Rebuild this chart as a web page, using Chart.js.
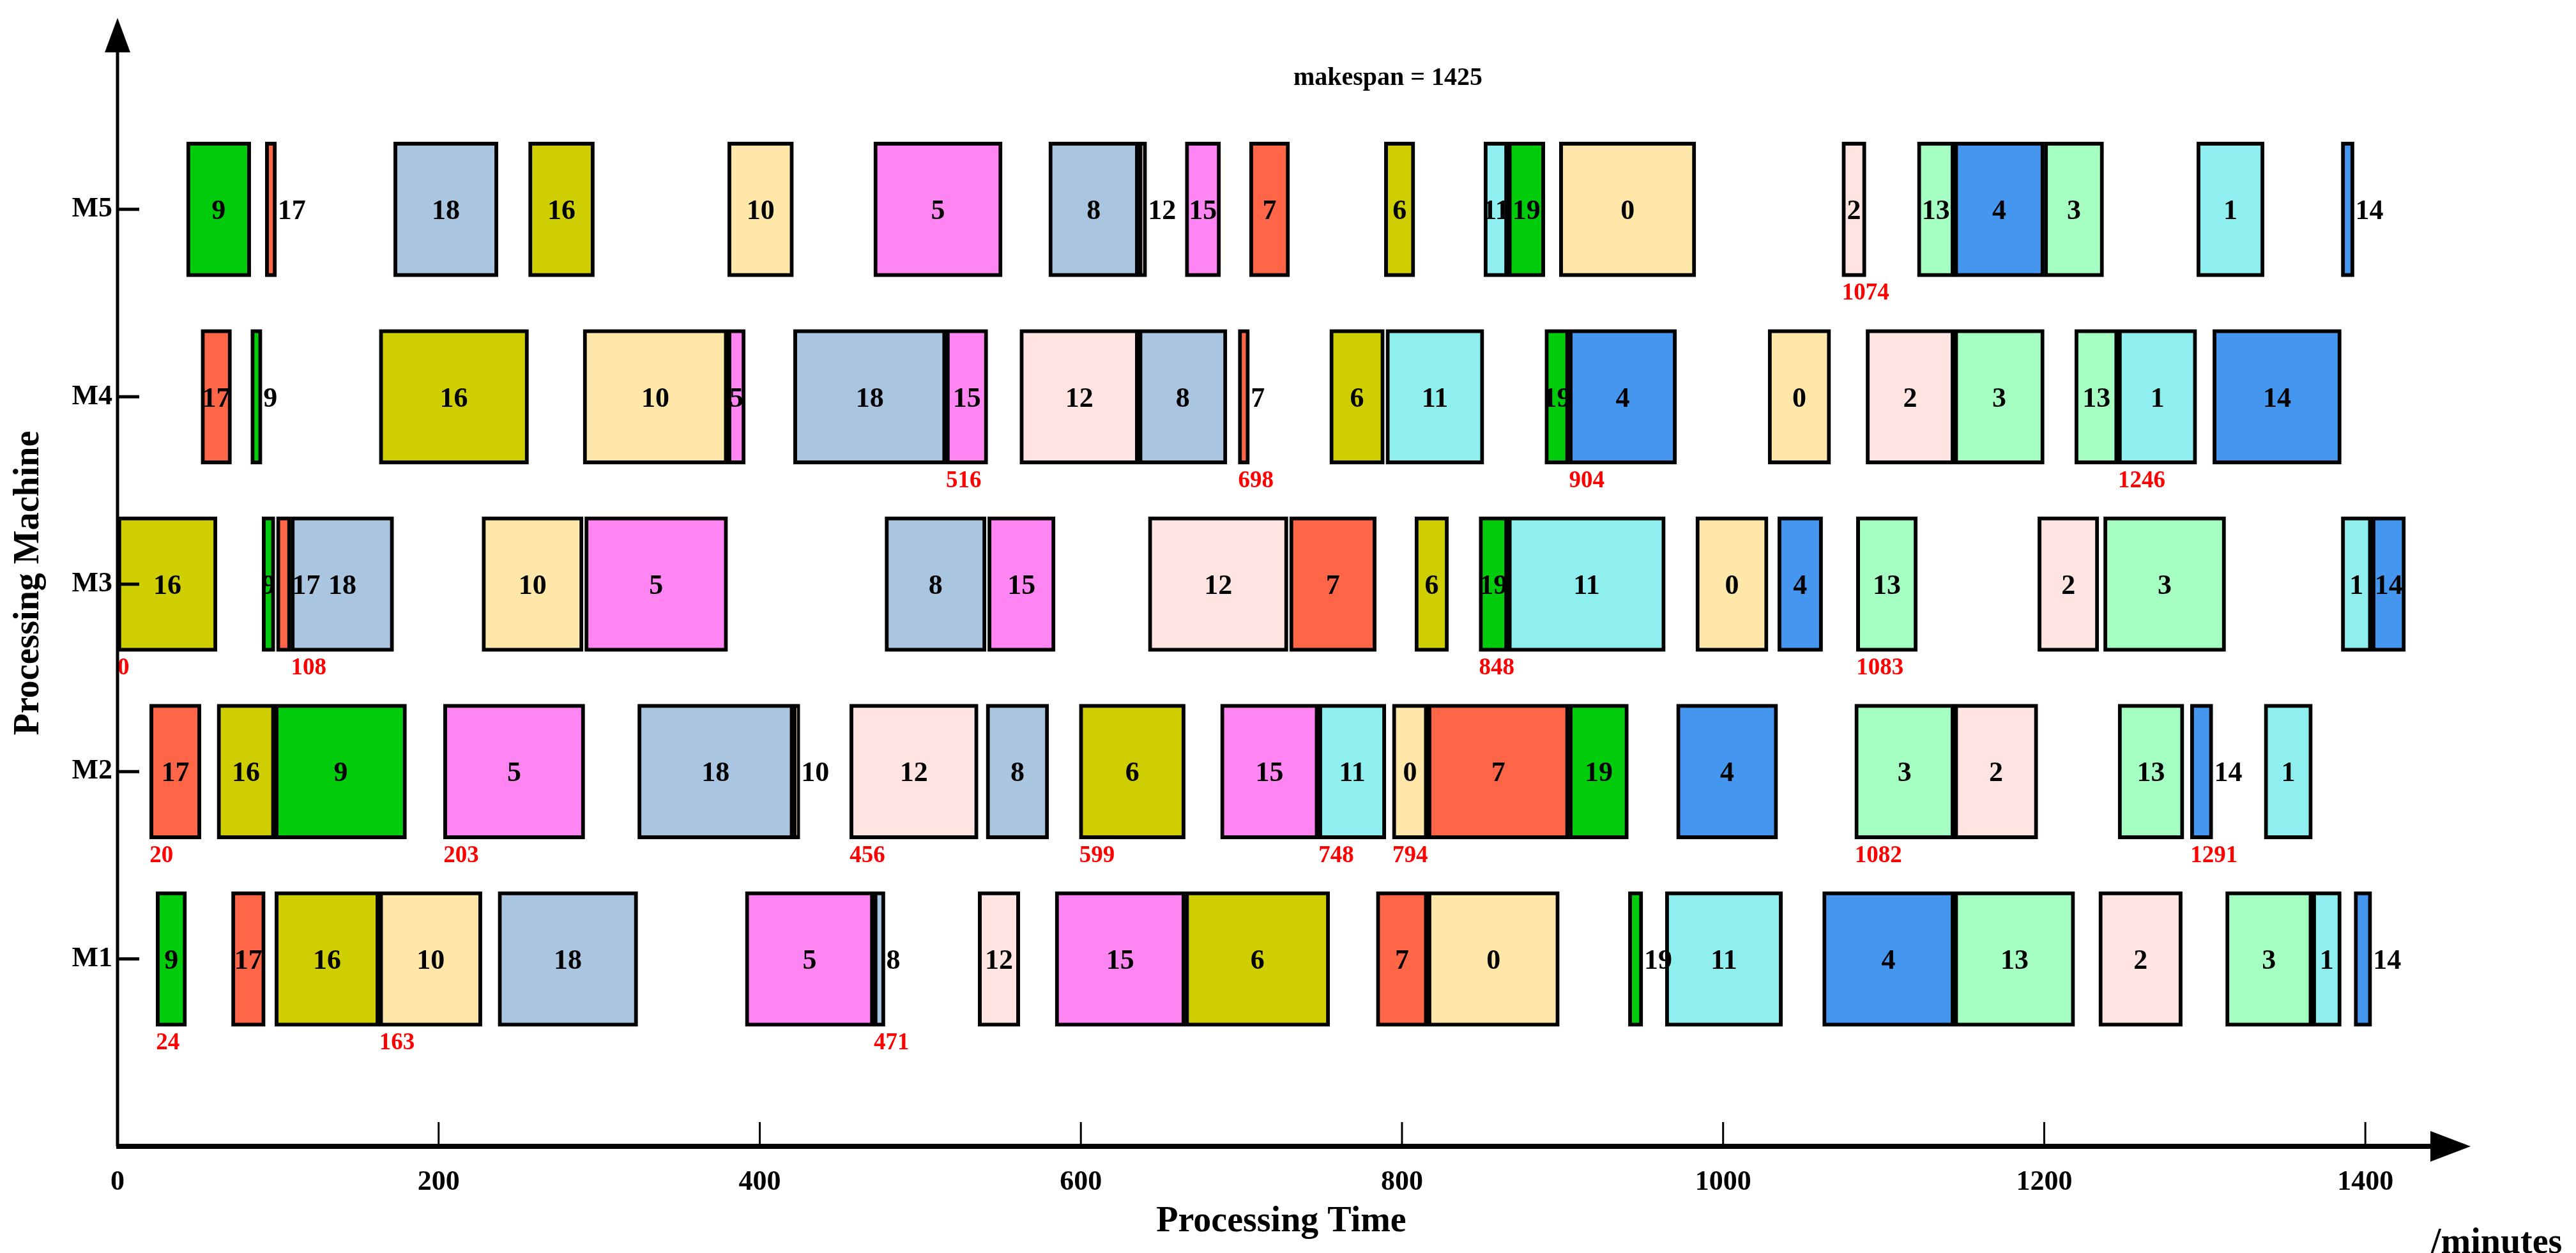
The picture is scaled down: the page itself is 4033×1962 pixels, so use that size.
<!DOCTYPE html>
<html>
<head>
<meta charset="utf-8">
<script src="https://cdn.jsdelivr.net/npm/chart.js@4.4.1/dist/chart.umd.min.js"></script>
<style>
  html, body { margin: 0; padding: 0; background: #fff; }
  canvas { display: block; }
</style>
</head>
<body>
<canvas id="gantt" width="4033" height="1962"></canvas>
<script>
// machines, bottom to top
const machines = ["M1", "M2", "M3", "M4", "M5"];

// operations on each machine: [job, start, end] in minutes
const m1Ops = [[9,24,43],[17,71,92],[16,98,163],[10,163,227],[18,237,324],[5,391,471],[8,471,478],[12,536,562],[15,584,665],[6,665,755],[7,784,816],[0,816,898],[19,941,950],[11,964,1037],[4,1062,1144],[13,1144,1219],[2,1234,1286],[3,1313,1367],[1,1367,1385],[14,1393,1404]];
const m2Ops = [[17,20,52],[16,62,98],[9,98,180],[5,203,291],[18,324,421],[10,421,425],[12,456,536],[8,541,580],[6,599,665],[15,687,748],[11,748,790],[0,794,816],[7,816,904],[19,904,941],[4,971,1034],[3,1082,1144],[2,1144,1196],[13,1246,1287],[14,1291,1305],[1,1337,1367]];
const m3Ops = [[16,0,62],[9,90,98],[17,99,108],[18,108,172],[10,227,290],[5,291,380],[8,478,541],[15,542,584],[12,642,729],[7,730,784],[6,808,829],[19,848,866],[11,866,964],[0,983,1028],[4,1034,1062],[13,1083,1121],[2,1196,1234],[3,1237,1313],[1,1385,1404],[14,1404,1425]];
const m4Ops = [[17,52,71],[9,83,90],[16,163,256],[10,290,380],[5,380,391],[18,421,516],[15,516,542],[12,562,636],[8,636,691],[7,698,705],[6,755,789],[11,790,851],[19,889,904],[4,904,971],[0,1028,1067],[2,1089,1144],[3,1144,1200],[13,1219,1246],[1,1246,1295],[14,1305,1385]];
const m5Ops = [[9,43,83],[17,92,99],[18,172,237],[16,256,297],[10,380,421],[5,471,551],[8,580,636],[12,636,641],[15,665,687],[7,705,730],[6,789,808],[11,851,866],[19,866,889],[0,898,983],[2,1074,1089],[13,1121,1144],[4,1144,1200],[3,1200,1237],[1,1295,1337],[14,1385,1393]];

// red time marks under the bars
const m1Marks = [24, 163, 471];
const m2Marks = [20, 203, 456, 599, 748, 794, 1082, 1291];
const m3Marks = [0, 108, 848, 1083];
const m4Marks = [516, 698, 904, 1246];
const m5Marks = [1074];

const xTicks = [200, 400, 600, 800, 1000, 1200, 1400];

// colour by job number (job % 10)
const jobColors = ["#FEE7A8", "#8EEFEE", "#FFE4E1", "#A6FFC2", "#4496EE",
                   "#FF85F2", "#CFCE00", "#FF6647", "#AAC5E0", "#00CC0C"];

const allOps = [m1Ops, m2Ops, m3Ops, m4Ops, m5Ops];
const allMarks = [m1Marks, m2Marks, m3Marks, m4Marks, m5Marks];
const makespan = Math.max(...allOps.flat().map(o => o[2]));

const BAR_H = 211;
const SERIF = "'Liberation Serif', 'Times New Roman', serif";

/* ---------------------------------------------------
    one dataset per job
----------------------------------------------------- */
let datasets = [];
for (let j = 0; j < 20; j++) {
  let pts = [];
  allOps.forEach((ops, mi) => {
    ops.forEach(o => {
      if (o[0] === j) pts.push({ x: [o[1], o[2]], y: mi + 1 });
    });
  });
  datasets.push({
    label: "" + j,
    data: pts,
    backgroundColor: jobColors[j % 10],
    borderColor: "#000",
    borderWidth: 6,
    borderSkipped: false,
    barThickness: BAR_H,
  });
}

/* ---------------------------------------------------
    axes, arrows, texts
----------------------------------------------------- */
const decorPlugin = {
  id: "decor",
  afterDatasetsDraw(chart) {
    const ctx = chart.ctx;
    const a = chart.chartArea;
    const xs = chart.scales.x, ys = chart.scales.y;
    ctx.save();

    // job numbers (inside, or just right of very thin bars)
    ctx.font = "bold 44px " + SERIF;
    ctx.fillStyle = "#000";
    ctx.textBaseline = "middle";
    chart.data.datasets.forEach((ds, di) => {
      chart.getDatasetMeta(di).data.forEach(el => {
        const l = Math.min(el.x, el.base), r = Math.max(el.x, el.base);
        const w = ctx.measureText(ds.label).width;
        if (r - l >= w * 0.85) {
          ctx.textAlign = "center";
          ctx.fillText(ds.label, (l + r) / 2, el.y + 4);
        } else {
          ctx.textAlign = "left";
          ctx.fillText(ds.label, r + 2, el.y + 4);
        }
      });
    });

    // red marks
    ctx.font = "bold 37px " + SERIF;
    ctx.fillStyle = "#FF0000";
    ctx.textAlign = "left";
    ctx.textBaseline = "top";
    allMarks.forEach((marks, mi) => {
      const yb = ys.getPixelForValue(mi + 1) + BAR_H / 2 + 8;
      marks.forEach(t => ctx.fillText("" + t, xs.getPixelForValue(t), yb));
    });

    // y axis with arrow
    ctx.strokeStyle = "#000";
    ctx.fillStyle = "#000";
    ctx.lineWidth = 5;
    ctx.beginPath();
    ctx.moveTo(a.left, a.bottom);
    ctx.lineTo(a.left, 60);
    ctx.stroke();
    ctx.beginPath();
    ctx.moveTo(a.left, 28);
    ctx.lineTo(a.left - 20, 82);
    ctx.lineTo(a.left + 20, 82);
    ctx.closePath();
    ctx.fill();

    // x axis with arrow
    ctx.lineWidth = 8;
    ctx.beginPath();
    ctx.moveTo(a.left - 2, a.bottom);
    ctx.lineTo(3820, a.bottom);
    ctx.stroke();
    ctx.beginPath();
    ctx.moveTo(3868, a.bottom);
    ctx.lineTo(3805, a.bottom - 24);
    ctx.lineTo(3805, a.bottom + 24);
    ctx.closePath();
    ctx.fill();

    // tick marks
    ctx.lineWidth = 3;
    xTicks.forEach(v => {
      const px = xs.getPixelForValue(v);
      ctx.beginPath();
      ctx.moveTo(px, a.bottom);
      ctx.lineTo(px, a.bottom - 38);
      ctx.stroke();
    });
    ctx.lineWidth = 5;
    machines.forEach((m, i) => {
      const py = ys.getPixelForValue(i + 1);
      ctx.beginPath();
      ctx.moveTo(a.left, py);
      ctx.lineTo(a.left + 34, py);
      ctx.stroke();
    });

    // titles
    ctx.fillStyle = "#000";
    ctx.textBaseline = "middle";
    ctx.textAlign = "center";
    ctx.font = "bold 40px " + SERIF;
    ctx.fillText("makespan = " + makespan, 2173, 123);
    ctx.font = "bold 56px " + SERIF;
    ctx.fillText("Processing Time", 2006, 1914);
    ctx.textAlign = "left";
    ctx.fillText("/minutes", 3806, 1948);
    ctx.save();
    ctx.translate(46, 913);
    ctx.rotate(-Math.PI / 2);
    ctx.textAlign = "center";
    ctx.fillText("Processing Machine", 0, 0);
    ctx.restore();

    ctx.restore();
  },
};

new Chart(document.getElementById("gantt"), {
  type: "bar",
  data: { datasets: datasets },
  options: {
    indexAxis: "y",
    responsive: false,
    animation: false,
    devicePixelRatio: 1,
    grouped: false,
    layout: { padding: { top: 30, right: 179, left: 0, bottom: 0 } },
    plugins: { legend: { display: false }, tooltip: { enabled: false } },
    scales: {
      x: {
        type: "linear",
        min: 0,
        max: 1460,
        offset: false,
        grid: { display: false, drawTicks: false },
        border: { display: false },
        ticks: {
          stepSize: 200,
          includeBounds: false,
          padding: 30,
          color: "#000",
          font: { family: SERIF, size: 44, weight: "bold" },
          maxRotation: 0,
          callback: v => "" + v,
        },
        afterFit(scale) { scale.height = 167; },
      },
      y: {
        type: "linear",
        min: 0,
        max: 6,
        offset: false,
        grid: { display: false, drawTicks: false },
        border: { display: false },
        ticks: {
          stepSize: 1,
          padding: 8,
          color: "#000",
          font: { family: SERIF, size: 44, weight: "bold" },
          callback: v => (v >= 1 && v <= 5 ? machines[v - 1] : ""),
        },
        afterFit(scale) { scale.width = 184; },
      },
    },
  },
  plugins: [decorPlugin],
});
</script>
</body>
</html>
